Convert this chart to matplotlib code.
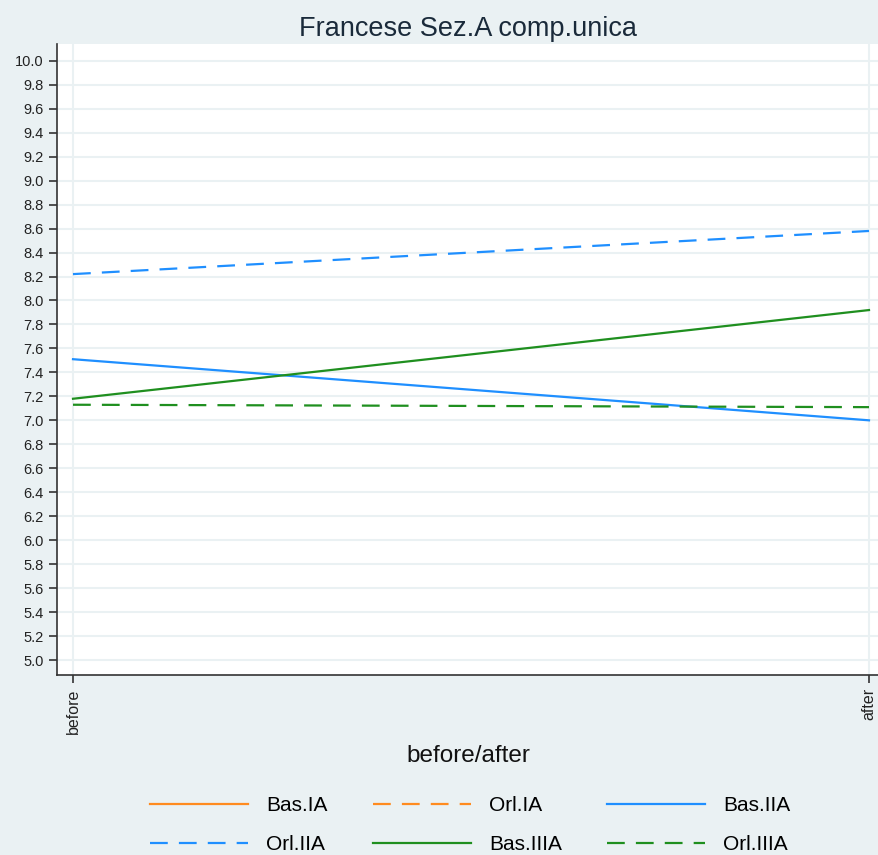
import numpy as np
import matplotlib.pyplot as plt

plt.rcParams['font.family'] = ['Liberation Sans', 'DejaVu Sans']

# data
periods = ['before', 'after']
series_names = ['Bas.IA', 'Orl.IA', 'Bas.IIA', 'Orl.IIA', 'Bas.IIIA', 'Orl.IIIA']
bas_IA = [np.nan, np.nan]
orl_IA = [np.nan, np.nan]
bas_IIA = [7.51, 7.00]
orl_IIA = [8.22, 8.58]
bas_IIIA = [7.18, 7.92]
orl_IIIA = [7.13, 7.11]
y_ticks = np.round(np.arange(5.0, 10.01, 0.2), 1)

orange = '#ff8b1f'
blue = '#1f8fff'
green = '#1f8f1f'
bg = '#eaf1f3'

fig = plt.figure(figsize=(8.79, 8.55), dpi=100, facecolor=bg)
ax = fig.add_axes([57/879, 1-675/855, 1-57/879, (675-44)/855])
ax.set_facecolor('white')

x = np.arange(len(periods))
dash = (0, (8, 5))
styles = [
    (bas_IA, orange, '-'),
    (orl_IA, orange, dash),
    (bas_IIA, blue, '-'),
    (orl_IIA, blue, dash),
    (bas_IIIA, green, '-'),
    (orl_IIIA, green, dash),
]
handles = []
for (vals, col, ls), name in zip(styles, series_names):
    h, = ax.plot(x, vals, color=col, linestyle=ls, linewidth=1.6, label=name)
    handles.append(h)

ax.set_xlim(-16/796, 1 + 10/796)
ax.set_ylim(4.875, 10.14)
ax.set_yticks(y_ticks)
ax.set_yticklabels([f'{v:.1f}' for v in y_ticks], fontsize=10.5, color='#222222')
ax.set_xticks(x)
ax.set_xticklabels(periods, rotation=90, fontsize=11.5, color='#222222')

ax.grid(True, color=bg, linewidth=1.5)
ax.set_axisbelow(True)
for s in ['top', 'right']:
    ax.spines[s].set_visible(False)
for s in ['left', 'bottom']:
    ax.spines[s].set_color('#333333')
    ax.spines[s].set_linewidth(1.2)
ax.tick_params(axis='both', length=6, width=1.2, color='#333333')

ax.set_xlabel('before/after', fontsize=17.5, color='#111111', labelpad=8)
ax.set_title('Francese Sez.A comp.unica', fontsize=19.5, color='#1a2a3a', pad=6)

# row-wise legend order for a 3 column legend
order = [0, 3, 1, 4, 2, 5]
fig.legend([handles[i] for i in order], [series_names[i] for i in order],
           loc='lower center', bbox_to_anchor=(0.535, -0.021), ncol=3, frameon=False,
           fontsize=15, handlelength=4.7, handletextpad=0.85, columnspacing=2.2,
           labelspacing=0.95)

plt.savefig('out.png', dpi=100, facecolor=bg)
